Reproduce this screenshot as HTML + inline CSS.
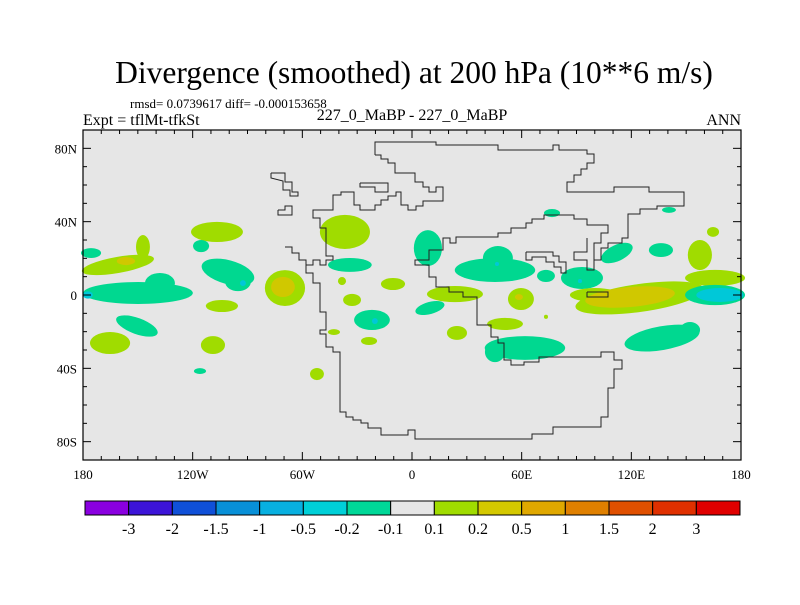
<!DOCTYPE html>
<html><head><meta charset="utf-8"><style>
body{margin:0;background:#fff;}
svg text{font-family:"Liberation Serif",serif;fill:#000;}
</style></head><body>
<svg id="chart" width="800" height="600" xmlns="http://www.w3.org/2000/svg">
<text x="414" y="83" font-size="31.5" text-anchor="middle">Divergence (smoothed) at 200 hPa (10**6 m/s)</text>
<text x="130" y="108" font-size="13">rmsd= 0.0739617 diff= -0.000153658</text>
<text x="83" y="125" font-size="16">Expt = tflMt-tfkSt</text>
<text x="412" y="120" font-size="16" text-anchor="middle">227_0_MaBP - 227_0_MaBP</text>
<text x="741" y="125" font-size="16" text-anchor="end">ANN</text>
<rect x="83" y="130" width="658" height="330" fill="#e6e6e6"/>
<g id="blobs"></g>
<g id="coast" fill="none" stroke="#222" stroke-width="1"></g>
<rect x="83" y="130" width="658" height="330" fill="none" stroke="#000" stroke-width="1.2"/>
<g id="ticks" stroke="#000" stroke-width="1"></g>
<g id="cbar"></g>
</svg>
<script>
// ---- data ----
const levelColors=["#00d890","#a0dc00","#d0c800","#00c8d8"]; // 0 teal,1 green,2 yellow,3 cyan
// blobs: lon, lat, radius lon, radius lat, rotation, level
const blobLon=[-106.7,-115.4,-175.6,-160.9,-147.2,-149.9,-137.9,-100.7,-95.2,-69.5,-104,-150.5,-165.2,-108.9,-116,-52,-36.7,-34,-38.3,-10.4,-32.8,-21.9,-42.7,-23.5,8.7,76.6,140.6,45.4,47,73.3,93,112.1,136.2,164.7,124.7,165.8,157.5,100.1,165.8,23.5,59.6,9.8,50.9,24.6,61.8,45.4,136.8,152.1,73.3,
 -156.5,-177.3,-92.5,-70.6,-20.3,46.5,91.9,119.3,168.5,58.5];
const blobLat=[34.4,26.7,22.9,16.4,26.2,1.1,6.5,12.5,7.1,3.8,-6,-16.9,-26.2,-27.3,-41.5,-43.1,34.4,16.4,7.6,6,-2.7,-13.6,-20.2,-25.1,25.6,44.7,46.4,13.6,20.2,10.4,9.3,22.9,24.5,34.4,-1.6,9.3,21.8,0,0,0.5,-2.2,-7.1,-15.8,-20.7,-28.9,-31.1,-23.5,-19.1,-11.9,
 18.5,0,6.5,4.4,-14.2,16.9,7.6,-1.1,0,-1.1];
const blobRLon=[14.2,4.4,5.5,20,3.8,30,8.2,14.8,7,11,8.8,12,11,6.6,3.3,3.8,13.7,12,2.2,6.6,4.9,9.8,3.3,4.4,7.7,4.4,3.8,22,8.2,4.9,11.5,9.3,6.6,3.3,35.6,16.4,6.6,13.7,16.4,15.3,7.1,8.2,9.8,5.5,22,5.5,20.8,5.5,1.1,
 5,2.7,1.6,6.5,1.6,1.1,1.1,24.6,13,2.2];
const blobRLat=[5.5,3.3,2.7,4.4,6.5,6,5.5,6.5,5,9.8,3.3,4.4,6,4.9,1.6,3.3,9.3,3.8,2.2,3.3,3.3,5.5,1.6,2.2,9.8,2.2,1.6,6.5,6.5,3.3,6,4.4,3.8,2.7,7.6,4.4,8.2,3.8,5.5,4.4,6,3.3,3.3,3.8,6.5,5.5,6.5,4.4,1.1,
 2.2,2,1.6,5.5,1.6,1.1,1.1,5.5,3.8,1.6];
const blobRot=[0,0,0,-10,0,0,0,15,0,0,0,20,0,0,0,0,0,0,0,0,0,0,0,0,0,0,0,0,0,0,0,-25,0,0,-8,0,0,0,0,0,0,-15,0,0,0,0,-10,0,0,
 0,0,0,0,0,0,0,-5,0,0];
const blobLevel=[1,0,0,1,1,0,0,0,0,1,1,0,1,1,0,1,1,0,1,1,1,0,1,1,0,0,0,0,0,0,0,0,0,1,1,1,1,1,0,1,1,0,1,1,0,0,0,0,1,
 2,3,3,2,3,3,3,2,3,2];
const cbarColors=["#8a00e0","#3c14d8","#1050d8","#0890d8","#08b0e0","#00d0d8","#00d898","#e6e6e6","#a0dc00","#d4c800","#e0a800","#e08000","#e05000","#e03000","#e00000"];
const cbarLabels=["-3","-2","-1.5","-1","-0.5","-0.2","-0.1","0.1","0.2","0.5","1","1.5","2","3"];
const lonTicks=[-180,-120,-60,0,60,120,180];
const lonTickLabels=["180","120W","60W","0","60E","120E","180"];
const latTicks=[80,40,0,-40,-80];
const latTickLabels=["80N","40N","0","40S","80S"];
// base-map outline (pixel geometry of coastlines)
const outlinePx=[
"375,155 375,142 436,142 436,145 498,145 498,150 553,150 553,145 559,145 559,150 587,150 587,154 594,154 594,163 587,163 587,169 581,169 581,175 574,175 574,182 567,182 567,192 614,192 614,187 649,187 649,192 684,192 684,206 657,206 657,209 640,209 640,214 628,214 628,238 622,238 622,243 608,243 608,248 601,248 601,260 594,260 594,270",
"375,155 381,155 381,159 388,159 388,163 395,163 395,173 415,173 415,182 423,182 423,187 429,187 429,192 436,192 436,187 443,187 443,201 423,201 423,206 416,206 416,210 408,210 408,205 401,205 401,192 396,192 396,196 388,196 388,200 381,200 381,205 375,205 375,210 360,210 360,205 354,205 354,192 341,192 341,195 333,195 333,210 313,210 313,218 320,218 320,228 326,228 326,256 333,256 333,260 326,260 326,265 320,265 320,260 313,260 313,265 306,265 306,260 299,260 299,253 292,253 292,247 285,247",
"306,265 306,273 313,273 313,283 320,283 320,312 326,312 326,330 320,330 320,334 326,334 326,347 333,347 333,352 340,352 340,412 346,412 346,417 353,417 353,420 361,420 361,423 368,423 368,428 381,428 381,435 408,435 408,430 415,430 415,439 532,439 532,434 553,434 553,427 601,427 601,417 608,417 608,388 614,388 614,369 622,369 622,360 614,360 614,352 601,352 601,357 539,357 539,362 524,362 524,365 511,365 511,360 504,360 504,343 498,343 498,337 491,337 491,325 477,325 477,297 463,297 463,292 449,292 449,287 436,287 436,277 429,277 429,265 415,265 415,260 429,260 429,250 443,250 443,238 450,238 450,243 456,243 456,237 477,237 477,237 498,237 498,233 511,233 511,228 526,228 526,223 532,223 532,219 544,219 544,215 574,215 574,219 587,219 587,225 608,225 608,233 601,233 601,243 594,243 594,270 587,270 587,260 574,260 574,252 587,252 587,238",
"271,173 285,173 285,182 292,182 292,192 298,192 298,196 290,196 290,190 283,190 283,181 271,178 271,173",
"278,210 285,210 285,206 292,206 292,215 278,215 278,210",
"360,183 388,183 388,192 375,192 375,187 360,187 360,183",
"526,252 553,252 553,256 559,256 559,262 566,262 566,273 561,273 561,267 554,267 554,262 546,262 546,257 532,257 532,260 526,260 526,252",
"587,292 608,292 608,297 587,297 587,292"];
// ---- axes ----
const X0=83,X1=741,Y0=130,Y1=460;
const xOf=lon=>X0+(lon+180)*(X1-X0)/360;
const yOf=lat=>Y0+(90-lat)*(Y1-Y0)/180;
const NS="http://www.w3.org/2000/svg";
function mk(tag,attrs,parent){const e=document.createElementNS(NS,tag);for(const k in attrs)e.setAttribute(k,attrs[k]);parent.appendChild(e);return e;}
// blobs
const gB=document.getElementById('blobs');
for(let i=0;i<blobLon.length;i++){
  const cx=xOf(blobLon[i]),cy=yOf(blobLat[i]);
  const rx=blobRLon[i]*(X1-X0)/360,ry=blobRLat[i]*(Y1-Y0)/180;
  const e=mk('ellipse',{cx:cx,cy:cy,rx:rx,ry:ry,fill:levelColors[blobLevel[i]],transform:`rotate(${blobRot[i]} ${cx} ${cy})`},gB);
  
  
}
// coast
const gC=document.getElementById('coast');
outlinePx.forEach(p=>{const e=mk('polyline',{points:p},gC);
  
  });
// ticks
const gT=document.getElementById('ticks');
for(let lon=-180;lon<=180;lon+=10){
  const x=xOf(lon);const L=lonTicks.includes(lon)?8:4;
  mk('line',{x1:x,y1:Y1,x2:x,y2:Y1-L},gT);mk('line',{x1:x,y1:Y0,x2:x,y2:Y0+L},gT);
}
for(let lat=-90;lat<=90;lat+=10){
  const y=yOf(lat);const L=latTicks.includes(lat)?8:4;
  mk('line',{x1:X0,y1:y,x2:X0+L,y2:y},gT);mk('line',{x1:X1,y1:y,x2:X1-L,y2:y},gT);
}
const svg=document.getElementById('chart');
lonTicks.forEach((lon,i)=>{const t=mk('text',{x:xOf(lon),y:Y1+19,'font-size':13,'text-anchor':'middle'},svg);t.textContent=lonTickLabels[i];
  
  });
latTicks.forEach((lat,i)=>{const t=mk('text',{x:X0-6,y:yOf(lat)+5,'font-size':13,'text-anchor':'end'},svg);t.textContent=latTickLabels[i];
  
  });
// colorbar
const gCb=document.getElementById('cbar');
const cbX0=85,cbX1=740,cbY=501,cbH=14,bw=(cbX1-cbX0)/cbarColors.length;
cbarColors.forEach((c,i)=>{const r=mk('rect',{x:cbX0+i*bw,y:cbY,width:bw,height:cbH,fill:c,stroke:'#000','stroke-width':1},gCb);
  
  });
cbarLabels.forEach((l,i)=>{const t=mk('text',{x:cbX0+(i+1)*bw,y:534,'font-size':16,'text-anchor':'middle'},gCb);t.textContent=l;
  
  });
</script>
</body></html>
